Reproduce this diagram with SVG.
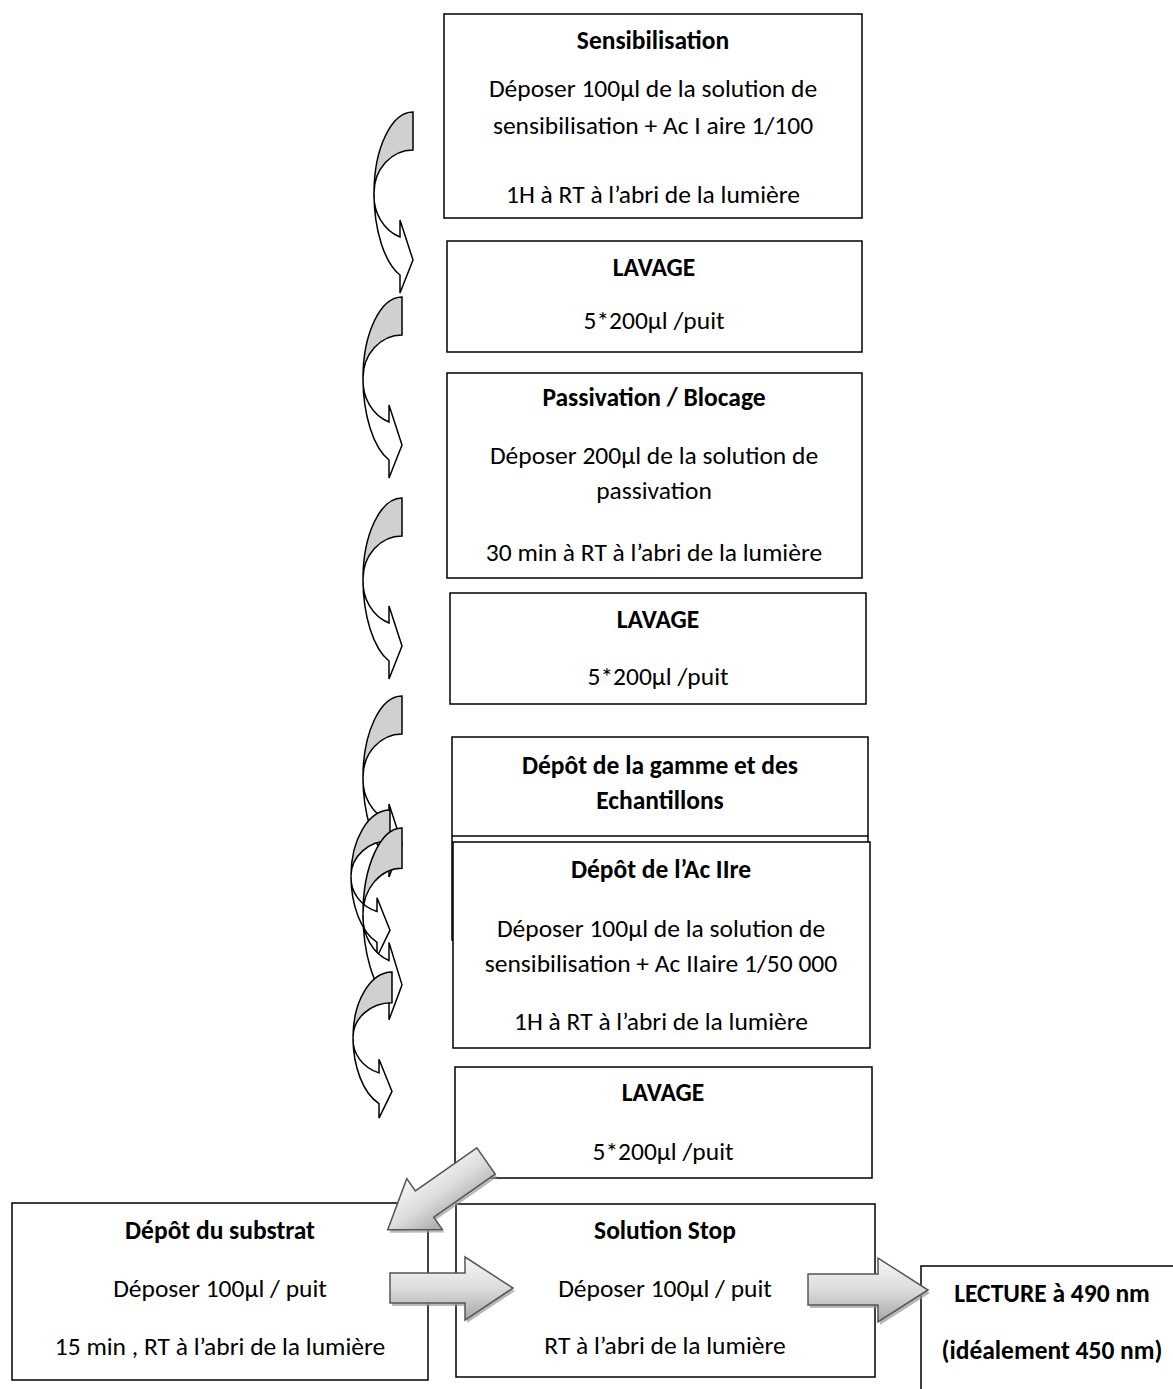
<svg xmlns="http://www.w3.org/2000/svg" width="1173" height="1389" viewBox="0 0 1173 1389">
<style>
.box{fill:#fff;stroke:#000;stroke-width:1.5}
.t{font-family:Carlito,Lato,'Liberation Sans',sans-serif;font-size:25.5px;text-anchor:middle;fill:#000}
.b{font-weight:bold}
.cg{fill:#d0d0d0;stroke:#000;stroke-width:1.5;vector-effect:non-scaling-stroke}
.cw{fill:#fff;stroke:#000;stroke-width:1.5;vector-effect:non-scaling-stroke}
.ba{fill:url(#grad);stroke:#555;stroke-width:1.5}
.sh{fill:#9a9a9a;opacity:.7}
</style>
<defs>
<linearGradient id="grad" x1="0" y1="0" x2="0" y2="1">
<stop offset="0" stop-color="#f7f7f7"/>
<stop offset="0.5" stop-color="#dcdcdc"/>
<stop offset="1" stop-color="#a6a6a6"/>
</linearGradient>
<g id="carrow">
<path class="cg" d="M39,0 A39,81 0 0 0 0,81 A39,43 0 0 1 39,38 Z"/>
<path class="cw" d="M0,81 A39,44 0 0 0 26,125 L26,108 L39,148 L26,181 L26,163 A39,87 0 0 1 0,81 Z"/>
</g>
</defs>

<g id="connectors">
<use href="#carrow" transform="translate(374,112)"/>
<use href="#carrow" transform="translate(363,297)"/>
<use href="#carrow" transform="translate(363,498)"/>
<use href="#carrow" transform="translate(363,696)"/>
<use href="#carrow" transform="translate(351,810) scale(1,0.812)"/>
<use href="#carrow" transform="translate(363,828) scale(1,1.06)"/>
<use href="#carrow" transform="translate(353,972) scale(1,0.807)"/>
</g>

<g id="n1"><rect class="box" x="444" y="14" width="418" height="204"/>
<text class="t b" x="653" y="49">Sensibilisation</text>
<text class="t" x="653" y="97">Déposer 100µl de la solution de</text>
<text class="t" x="653" y="134">sensibilisation + Ac I aire 1/100</text>
<text class="t" x="653" y="203">1H à RT à l’abri de la lumière</text></g>

<g id="n2"><rect class="box" x="447" y="241" width="415" height="111"/>
<text class="t b" x="654" y="276">LAVAGE</text>
<text class="t" x="654" y="329">5*200µl /puit</text></g>

<g id="n3"><rect class="box" x="447" y="373" width="415" height="205"/>
<text class="t b" x="654" y="406">Passivation / Blocage</text>
<text class="t" x="654" y="464">Déposer 200µl de la solution de</text>
<text class="t" x="654" y="499">passivation</text>
<text class="t" x="654" y="561">30 min à RT à l’abri de la lumière</text></g>

<g id="n4"><rect class="box" x="450" y="593" width="416" height="111"/>
<text class="t b" x="658" y="628">LAVAGE</text>
<text class="t" x="658" y="685">5*200µl /puit</text></g>

<g id="n5"><rect class="box" x="452" y="737" width="416" height="203"/>
<line x1="452" y1="836" x2="868" y2="836" stroke="#000" stroke-width="1.5"/>
<text class="t b" x="660" y="774">Dépôt de la gamme et des</text>
<text class="t b" x="660" y="809">Echantillons</text></g>

<g id="n6"><rect class="box" x="453" y="842" width="417" height="206"/>
<text class="t b" x="661" y="878">Dépôt de l’Ac IIre</text>
<text class="t" x="661" y="937">Déposer 100µl de la solution de</text>
<text class="t" x="661" y="972">sensibilisation + Ac IIaire 1/50 000</text>
<text class="t" x="661" y="1030">1H à RT à l’abri de la lumière</text></g>

<g id="n7"><rect class="box" x="455" y="1067" width="417" height="111"/>
<text class="t b" x="663" y="1101">LAVAGE</text>
<text class="t" x="663" y="1160">5*200µl /puit</text></g>

<g id="n8"><rect class="box" x="12" y="1203" width="416" height="177"/>
<text class="t b" x="220" y="1239">Dépôt du substrat</text>
<text class="t" x="220" y="1297">Déposer 100µl / puit</text>
<text class="t" x="220" y="1355">15 min , RT à l’abri de la lumière</text></g>

<g id="n9"><rect class="box" x="456" y="1204" width="419" height="173"/>
<text class="t b" x="665" y="1239">Solution Stop</text>
<text class="t" x="665" y="1297">Déposer 100µl / puit</text>
<text class="t" x="665" y="1354">RT à l’abri de la lumière</text></g>

<g id="n10"><rect class="box" x="921" y="1266" width="270" height="140"/>
<text class="t b" x="1052" y="1302">LECTURE à 490 nm</text>
<text class="t b" x="1052" y="1359">(idéalement 450 nm)</text></g>

<g id="connectors2">
<g transform="translate(488,1164) rotate(145) scale(1,-1)"><polygon class="sh" points="0,-16 75,-16 75,-31 120,0 75,31 75,16 0,16"/></g>
<g transform="translate(486,1161) rotate(145) scale(1,-1)"><polygon class="ba" points="0,-16 75,-16 75,-31 120,0 75,31 75,16 0,16"/></g>
<polygon class="sh" points="392,1276 467,1276 467,1260 515,1291 467,1323 467,1306 392,1306"/>
<polygon class="ba" points="390,1273 465,1273 465,1257 513,1288 465,1320 465,1303 390,1303"/>
<polygon class="sh" points="810,1277 880,1277 880,1261 930,1293 880,1325 880,1308 810,1308"/>
<polygon class="ba" points="808,1274 878,1274 878,1258 928,1290 878,1322 878,1305 808,1305"/>
</g>
</svg>
